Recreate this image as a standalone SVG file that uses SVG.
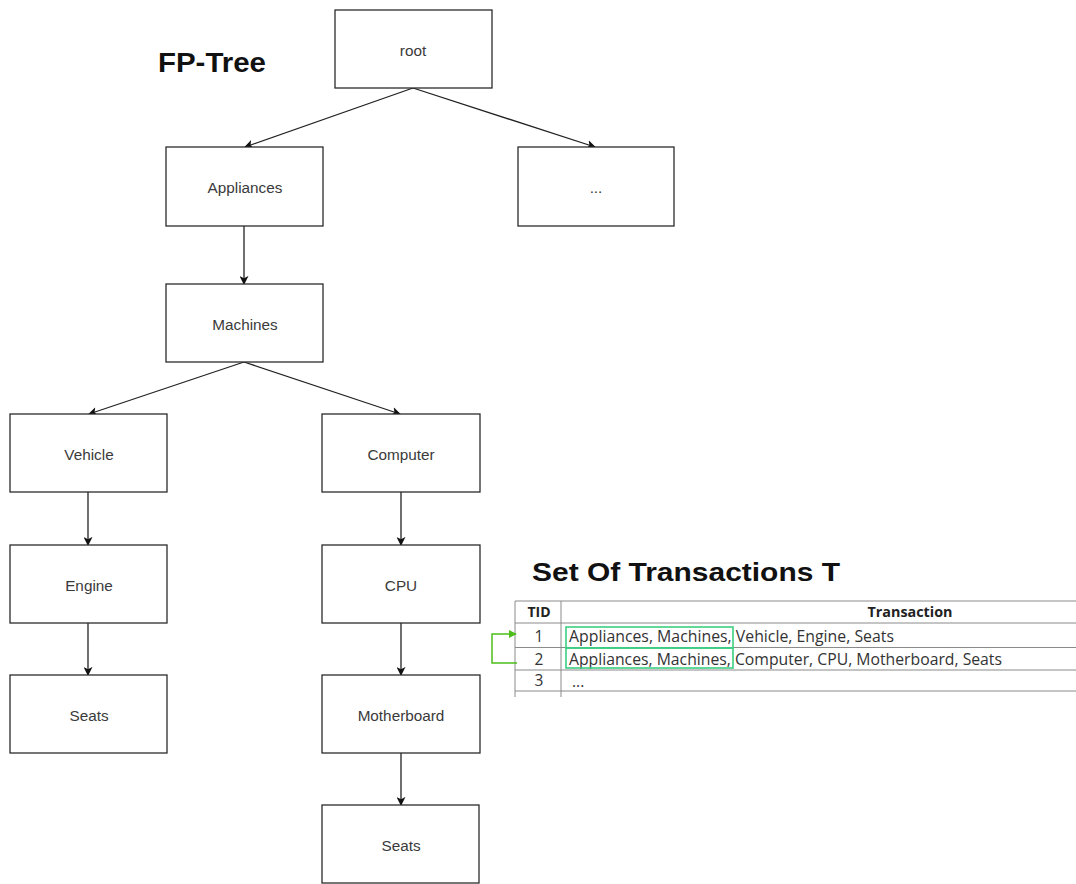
<svg xmlns="http://www.w3.org/2000/svg" width="1076" height="884" viewBox="0 0 1076 884">
  <style>
    .box { fill: #ffffff; stroke: #2b2b2b; stroke-width: 1.3; }
    .lbl { font-family: "Liberation Sans", Arial, sans-serif; font-size: 15.3px; fill: #3a3a3a; text-anchor: middle; dominant-baseline: central; }
    .edge { fill: none; stroke: #222222; stroke-width: 1.3; marker-end: url(#arrow); }
    .title { font-family: "Liberation Sans", Arial, sans-serif; font-weight: bold; fill: #111111; }
    .cell { font-family: "Open Sans", "Noto Sans", sans-serif; font-size: 15.5px; fill: #333333; }
    .head { font-family: "Open Sans", "Noto Sans", sans-serif; font-size: 14px; font-weight: bold; fill: #222222; text-anchor: middle; }
    .grid { stroke: #8a8a8a; stroke-width: 1; }
    .hl { fill: none; stroke: #3ccf82; stroke-width: 1.6; }
  </style>
  <defs>
    <marker id="arrow" viewBox="0 0 10 10" refX="9" refY="5" markerWidth="9" markerHeight="9" markerUnits="userSpaceOnUse" orient="auto">
      <path d="M0,0 L10,5 L0,10 L2.5,5 Z" fill="#111111"/>
    </marker>
    <marker id="garrow" viewBox="0 0 10 10" refX="9" refY="5" markerWidth="8" markerHeight="8" markerUnits="userSpaceOnUse" orient="auto">
      <path d="M0,0 L10,5 L0,10 Z" fill="#4cbf1a"/>
    </marker>
  </defs>

  <rect width="1076" height="884" fill="#ffffff"/>

  <!-- Titles -->
  <text class="title" x="158" y="72" font-size="27" textLength="108" lengthAdjust="spacingAndGlyphs">FP-Tree</text>
  <text class="title" x="532" y="581" font-size="26" textLength="308" lengthAdjust="spacingAndGlyphs">Set Of Transactions T</text>

  <!-- Connectors -->
  <g id="connectors">
    <line class="edge" x1="413" y1="88" x2="245" y2="147"/>
    <line class="edge" x1="413" y1="88" x2="595" y2="147"/>
    <line class="edge" x1="244" y1="226" x2="244" y2="284"/>
    <line class="edge" x1="244" y1="362" x2="89" y2="414"/>
    <line class="edge" x1="244" y1="362" x2="400" y2="414"/>
    <line class="edge" x1="88" y1="492" x2="88" y2="545"/>
    <line class="edge" x1="88" y1="623" x2="88" y2="675"/>
    <line class="edge" x1="401" y1="492" x2="401" y2="545"/>
    <line class="edge" x1="401" y1="623" x2="401" y2="675"/>
    <line class="edge" x1="401" y1="753" x2="401" y2="805"/>
  </g>

  <!-- Tree nodes -->
  <g id="node-root"><rect class="box" x="335" y="10" width="157" height="78"/><text class="lbl" x="413" y="50">root</text></g>
  <g id="node-appliances"><rect class="box" x="166" y="147" width="157" height="79"/><text class="lbl" x="245" y="187">Appliances</text></g>
  <g id="node-more"><rect class="box" x="518" y="147" width="156" height="79"/><text class="lbl" x="596" y="187">...</text></g>
  <g id="node-machines"><rect class="box" x="166" y="284" width="157" height="78"/><text class="lbl" x="245" y="324">Machines</text></g>
  <g id="node-vehicle"><rect class="box" x="10" y="414" width="157" height="78"/><text class="lbl" x="89" y="454">Vehicle</text></g>
  <g id="node-computer"><rect class="box" x="322" y="414" width="158" height="78"/><text class="lbl" x="401" y="454">Computer</text></g>
  <g id="node-engine"><rect class="box" x="10" y="545" width="157" height="78"/><text class="lbl" x="89" y="585">Engine</text></g>
  <g id="node-cpu"><rect class="box" x="322" y="545" width="158" height="78"/><text class="lbl" x="401" y="585">CPU</text></g>
  <g id="node-seats-1"><rect class="box" x="10" y="675" width="157" height="78"/><text class="lbl" x="89" y="715">Seats</text></g>
  <g id="node-motherboard"><rect class="box" x="322" y="675" width="158" height="78"/><text class="lbl" x="401" y="715">Motherboard</text></g>
  <g id="node-seats-2"><rect class="box" x="322" y="805" width="157" height="78"/><text class="lbl" x="401" y="845">Seats</text></g>

  <!-- Transactions table -->
  <g id="table">
    <line class="grid" x1="515" y1="601" x2="1076" y2="601"/>
    <line class="grid" x1="515" y1="623" x2="1076" y2="623" stroke="#555555"/>
    <line class="grid" x1="515" y1="647.5" x2="1076" y2="647.5"/>
    <line class="grid" x1="515" y1="670" x2="1076" y2="670"/>
    <line class="grid" x1="515" y1="691" x2="1076" y2="691" stroke="#444444" stroke-width="1.6"/>
    <line class="grid" x1="515" y1="601" x2="515" y2="697"/>
    <line class="grid" x1="561" y1="601" x2="561" y2="697" stroke="#444444"/>
    <text class="head" x="539" y="617">TID</text>
    <text class="head" x="910" y="617" textLength="85" lengthAdjust="spacingAndGlyphs">Transaction</text>
    <text class="cell" x="539" y="642" text-anchor="middle">1</text>
    <text class="cell" x="539" y="665" text-anchor="middle">2</text>
    <text class="cell" x="539" y="686" text-anchor="middle">3</text>
    <text class="cell" x="569" y="642" textLength="325" lengthAdjust="spacingAndGlyphs">Appliances, Machines, Vehicle, Engine, Seats</text>
    <text class="cell" x="569" y="665" textLength="433" lengthAdjust="spacingAndGlyphs">Appliances, Machines, Computer, CPU, Motherboard, Seats</text>
    <text class="cell" x="572" y="687">...</text>
    <rect class="hl" x="566" y="627" width="167" height="21" stroke="#2fa866"/>
    <rect class="hl" x="566" y="648" width="167" height="20"/>
  </g>

  <!-- Shared-prefix link -->
  <g id="prefix-link">
    <path d="M517,663 H492 V634 H516" fill="none" stroke="#4cbf1a" stroke-width="1.5" marker-end="url(#garrow)"/>
  </g>
</svg>
